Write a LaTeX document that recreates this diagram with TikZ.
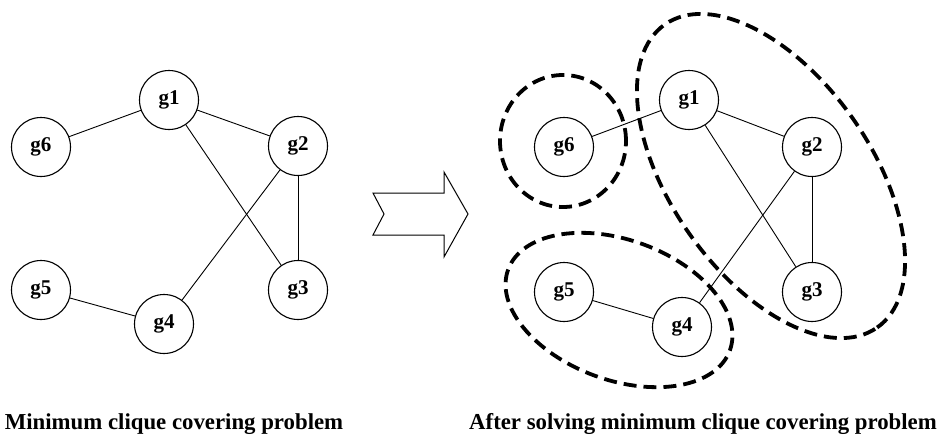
\documentclass[tikz,border=0pt]{standalone}
\usepackage{fontspec}
\setmainfont{Liberation Serif}
\begin{document}
\begin{tikzpicture}[x=1pt,y=-1pt,
  gnode/.style={circle,draw,line width=1.1pt,minimum size=59pt,inner sep=0pt,
                font=\bfseries\fontsize{21}{21}\selectfont},
  edge/.style={line width=0.9pt},
  cover/.style={line width=3.8pt,dash pattern=on 13pt off 7pt},
  caption/.style={anchor=base,inner sep=0pt,font=\bfseries\fontsize{22.8}{27}\selectfont}]
\useasboundingbox (0,0) rectangle (940,434);

% original graph
\node[gnode] (a1) at (169,100) {g1};
\node[gnode] (a6) at (41,147) {g6};
\node[gnode] (a2) at (298,146) {g2};
\node[gnode] (a5) at (41,290) {g5};
\node[gnode] (a4) at (164,324) {g4};
\node[gnode] (a3) at (298,290) {g3};
\draw[edge] (a1) -- (a6);
\draw[edge] (a1) -- (a2);
\draw[edge] (a1) -- (a3);
\draw[edge] (a2) -- (a3);
\draw[edge] (a2) -- (a4);
\draw[edge] (a4) -- (a5);

% transition arrow
\draw[line width=1pt,line join=miter]
  (373,193) -- (444,193) -- (444,172) -- (468,214) -- (444,257)
  -- (444,235) -- (373,235) -- (384,214) -- cycle;

% graph with its clique cover
\node[gnode] (b1) at (689,100) {g1};
\node[gnode] (b6) at (564,147) {g6};
\node[gnode] (b2) at (812,147) {g2};
\node[gnode] (b5) at (564,292) {g5};
\node[gnode] (b4) at (682,327) {g4};
\node[gnode] (b3) at (812,292) {g3};
\draw[edge] (b1) -- (b6);
\draw[edge] (b1) -- (b2);
\draw[edge] (b1) -- (b3);
\draw[edge] (b2) -- (b3);
\draw[edge] (b2) -- (b4);
\draw[edge] (b4) -- (b5);

\draw[cover] (563,141) ellipse [x radius=63pt, y radius=66pt];
\draw[cover, shift={(771,176)}, rotate=-55] (0,0) ellipse [x radius=185pt, y radius=100pt];
\draw[cover, shift={(619,310)}, rotate=-20] (0,0) ellipse [x radius=118pt, y radius=70pt];

% captions
\node[caption] (capL) at (174,429) {Minimum clique covering problem};
\node[caption] (capR) at (703,429) {After solving minimum clique covering problem};
\end{tikzpicture}
\end{document}
